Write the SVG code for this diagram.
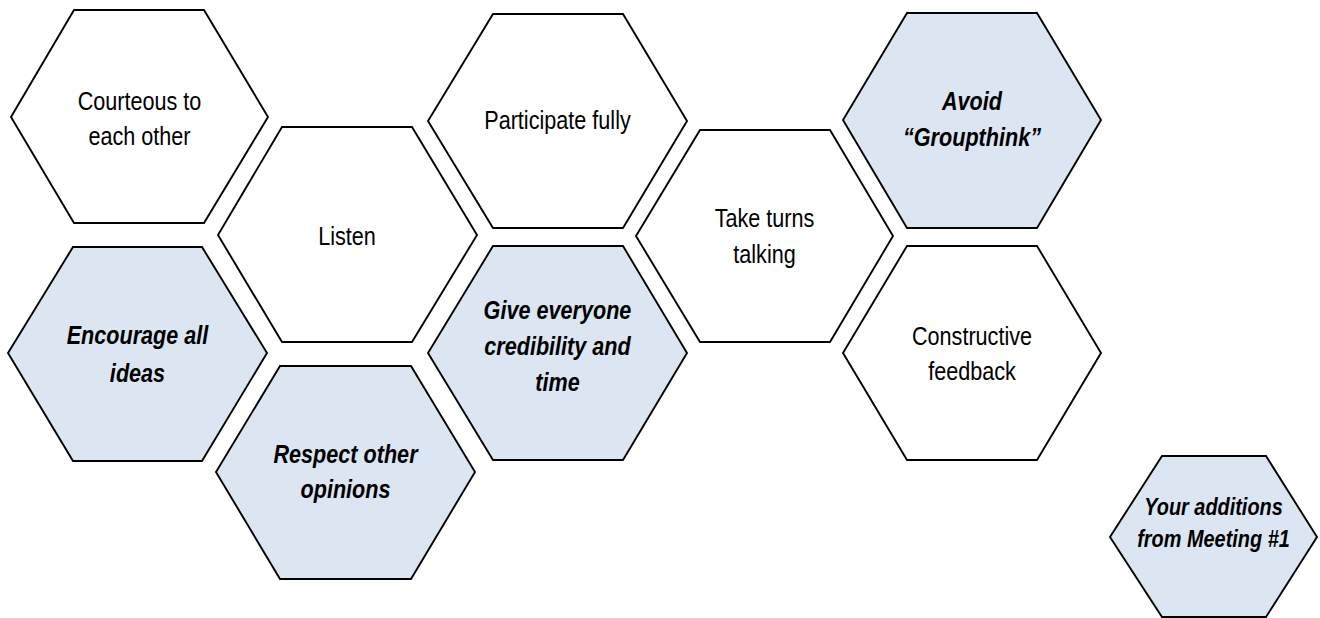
<svg xmlns="http://www.w3.org/2000/svg" width="1320" height="618" viewBox="0 0 1320 618">
<style>
.hex{fill:#ffffff;stroke:#000000;stroke-width:1.9;stroke-linejoin:miter}
.blue{fill:#dce6f2}
.t{font-family:"Liberation Sans",Arial,sans-serif;font-size:25px;fill:#000000;text-anchor:middle}
.b{font-weight:bold;font-style:italic}
.s{font-size:23px}
</style>
<rect width="1320" height="618" fill="#ffffff"/>
<g id="connectors"></g>
<g id="n-courteous">
<polygon class="hex" points="74,10 204,10 268,117 204,223 74,223 11,117"/>
<g transform="translate(139.5,0) scale(0.865,1)"><text class="t" x="0" y="110">Courteous to</text><text class="t" x="0" y="145">each other</text></g>
</g>
<g id="n-listen">
<polygon class="hex" points="282,127 412,127 477,235 412,342 282,342 218,235"/>
<g transform="translate(347,0) scale(0.865,1)"><text class="t" x="0" y="245">Listen</text></g>
</g>
<g id="n-encourage">
<polygon class="hex blue" points="73,247 202,247 267,353 202,461 73,461 8,353"/>
<g transform="translate(137.5,0) scale(0.865,1)"><text class="t b" x="0" y="344">Encourage all</text><text class="t b" x="0" y="382">ideas</text></g>
</g>
<g id="n-respect">
<polygon class="hex blue" points="280,366 411,366 475,472 411,579 280,579 216,472"/>
<g transform="translate(345.5,0) scale(0.865,1)"><text class="t b" x="0" y="463">Respect other</text><text class="t b" x="0" y="498">opinions</text></g>
</g>
<g id="n-participate">
<polygon class="hex" points="493,14 623,14 687,121 623,228 493,228 428,121"/>
<g transform="translate(557.5,0) scale(0.865,1)"><text class="t" x="0" y="129">Participate fully</text></g>
</g>
<g id="n-give">
<polygon class="hex blue" points="493,246 623,246 687,353 623,460 493,460 428,353"/>
<g transform="translate(557.5,0) scale(0.865,1)"><text class="t b" x="0" y="319">Give everyone</text><text class="t b" x="0" y="355">credibility and</text><text class="t b" x="0" y="391">time</text></g>
</g>
<g id="n-taketurns">
<polygon class="hex" points="700,130 830,130 893,236 830,342 700,342 636,236"/>
<g transform="translate(764.5,0) scale(0.865,1)"><text class="t" x="0" y="227">Take turns</text><text class="t" x="0" y="263">talking</text></g>
</g>
<g id="n-avoid">
<polygon class="hex blue" points="907,13 1037,13 1101,120 1037,228 907,228 843,120"/>
<g transform="translate(972,0) scale(0.865,1)"><text class="t b" x="0" y="110">Avoid</text><text class="t b" x="0" y="146">“Groupthink”</text></g>
</g>
<g id="n-constructive">
<polygon class="hex" points="907,246 1037,246 1101,353 1037,460 907,460 843,353"/>
<g transform="translate(972,0) scale(0.865,1)"><text class="t" x="0" y="345">Constructive</text><text class="t" x="0" y="380">feedback</text></g>
</g>
<g id="n-additions">
<polygon class="hex blue" points="1162,456 1266,456 1317,537 1266,617 1162,617 1110,537"/>
<g transform="translate(1213.5,0) scale(0.865,1)"><text class="t b s" x="0" y="515">Your additions</text><text class="t b s" x="0" y="547">from Meeting #1</text></g>
</g>
</svg>
